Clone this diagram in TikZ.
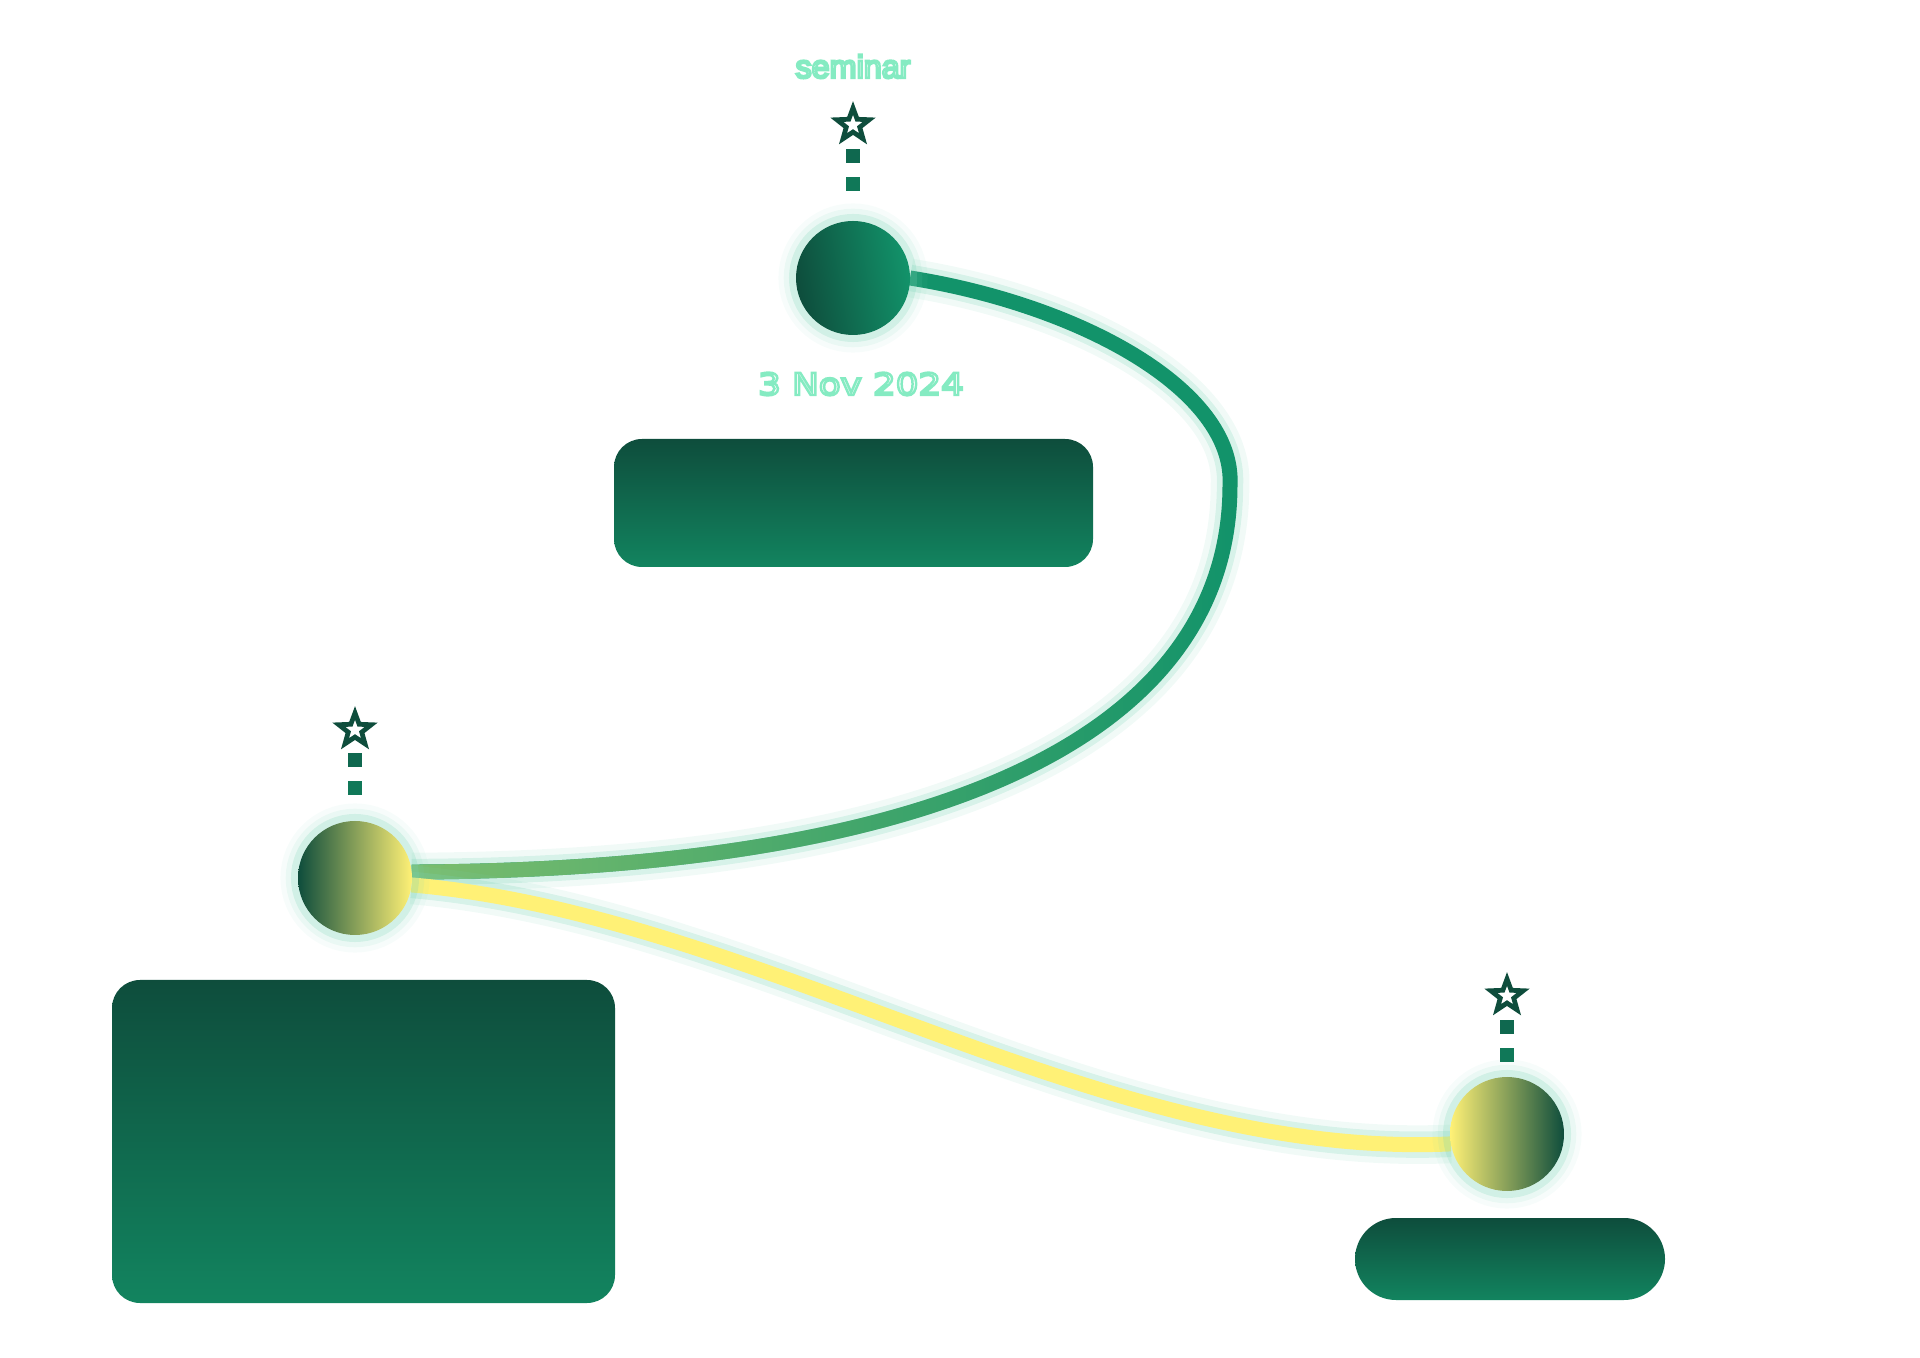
\documentclass[tikz,border=0pt]{standalone}
\usepackage{fontspec}
\usetikzlibrary{shapes, positioning, backgrounds, fadings}
\newfontfamily\labelfont{Liberation Sans}
\newfontfamily\datefont[FakeStretch=1.18]{DejaVu Sans}
\definecolor{evdark}{RGB}{14,77,60}
\definecolor{evlow}{RGB}{18,132,95}
\definecolor{evmid}{RGB}{18,147,106}
\definecolor{evlight}{RGB}{125,190,110}
\definecolor{evyellow}{RGB}{255,241,118}
\definecolor{evglow}{RGB}{120,210,180}
\definecolor{evsqa}{RGB}{15,104,79}
\definecolor{evsqb}{RGB}{16,120,88}
\tikzfading[name=greenfade, left color=transparent!0, middle color=transparent!25,
  right color=transparent!100]
% white letters with a mint outline
\newcommand\mintoutline[1]{\special{pdf:code 2 Tr 0.7 w 0.52 0.92 0.76 RG}#1\special{pdf:code 0 Tr}}

\begin{document}
\begin{tikzpicture}[
      evdot/.style={circle, minimum size=1.14cm, inner sep=0pt, outer sep=0pt,
        preaction={draw=evglow, line width=10pt, opacity=0.06},
        preaction={draw=evglow, line width=7pt, opacity=0.1},
        preaction={draw=evglow, line width=4pt, opacity=0.22}},
      card/.style={rectangle, rounded corners=0.28cm, inner sep=0pt,
        top color=evdark, bottom color=evlow},
      dotsq/.style={rectangle, minimum size=0.14cm, inner sep=0pt},
      starmk/.style={star, star points=5, star point ratio=2.4, minimum size=0.34cm,
        inner sep=0pt, draw=evdark, line width=1.35pt, fill=white},
      glowline/.style={preaction={draw=evglow, line width=11pt, opacity=0.1},
        preaction={draw=evglow, line width=7.5pt, opacity=0.22}},
      semfont/.style={font=\labelfont\fontsize{9.2}{11}\selectfont, anchor=base},
      datefont/.style={font=\datefont\fontsize{8.6}{10}\selectfont, anchor=base}
    ]
      \useasboundingbox (0,0) rectangle (19.2,-13.58);

      % Milestones
      \node[evdot, left color=evdark, right color=evmid, shading angle=100] (topdot) at (8.53,-2.78) {};
      \node[evdot, left color=evdark, right color=evyellow] (leftdot) at (3.55,-8.78) {};
      \node[evdot, left color=evyellow, right color=evdark] (rightdot) at (15.07,-11.34) {};

      % Cards
      \node[card, minimum width=4.79cm, minimum height=1.28cm] (topcard) at (8.535,-5.03) {};
      \node[card, minimum width=5.03cm, minimum height=3.23cm] (eventcard) at (3.635,-11.415) {};
      \node[card, rounded corners=0.41cm, minimum width=3.10cm, minimum height=0.82cm] (pill) at (15.10,-12.59) {};

      % Markers above the milestones
      \node[dotsq, fill=evsqb] (topsqb) at ([yshift=0.94cm]topdot) {};
      \node[dotsq, fill=evsqa] (topsqa) at ([yshift=1.22cm]topdot) {};
      \node[starmk] (topstar) at ([yshift=1.53cm]topdot) {};
      \node[dotsq, fill=evsqb] (leftsqb) at ([yshift=0.90cm]leftdot) {};
      \node[dotsq, fill=evsqa] (leftsqa) at ([yshift=1.18cm]leftdot) {};
      \node[starmk] (leftstar) at ([yshift=1.48cm]leftdot) {};
      \node[dotsq, fill=evsqb] (rightsqb) at ([yshift=0.79cm]rightdot) {};
      \node[dotsq, fill=evsqa] (rightsqa) at ([yshift=1.07cm]rightdot) {};
      \node[starmk] (rightstar) at ([yshift=1.38cm]rightdot) {};

      % Labels
      \node[semfont, text=white] (semlbl) at (8.53,-0.78) {\mintoutline{seminar}};
      \node[datefont, text=white] (datelbl) at (8.61,-3.95) {\mintoutline{3 Nov 2024}};

      \begin{scope}[on background layer]
        % Connections
        \coordinate (bend) at (12.30,-4.85);
        \draw[glowline, evmid, line width=0.15cm] (topdot.east)
          .. controls (10.8,-3.05) and (12.35,-3.9) .. (bend)
          .. controls (12.3,-7.3) and (9.5,-8.7) .. (leftdot.6);
        \draw[evlight, line width=0.15cm, path fading=greenfade] (bend)
          .. controls (12.3,-7.3) and (9.5,-8.7) .. (leftdot.6);
        \draw[glowline, evyellow, line width=0.15cm] (leftdot.-7)
          .. controls (7.6,-9.15) and (11.0,-11.6) .. (rightdot.190);
      \end{scope}
    \end{tikzpicture}
\end{document}
